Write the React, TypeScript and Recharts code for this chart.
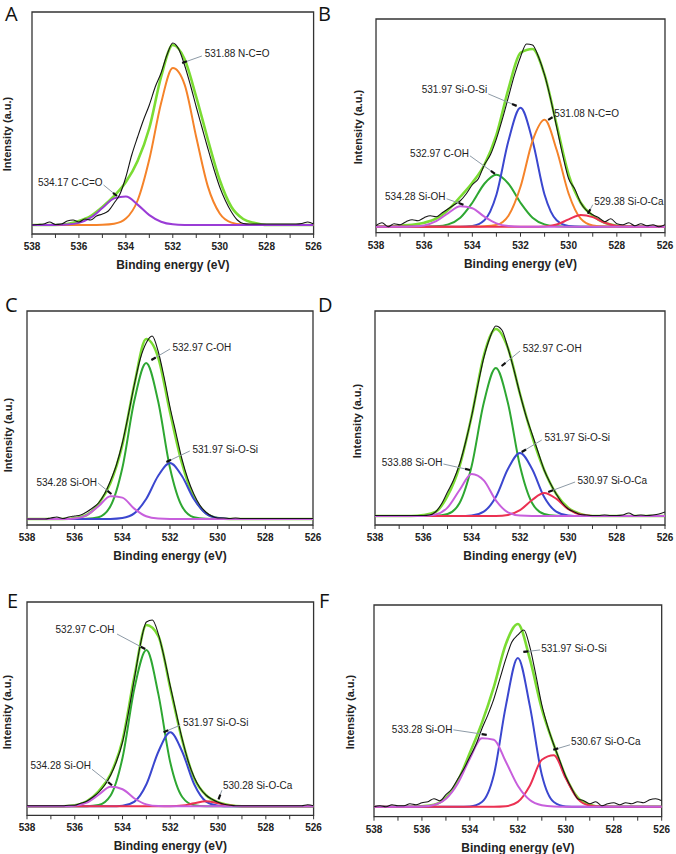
import React from 'react';
import { LineChart, Line, XAxis, YAxis, ReferenceArea, ReferenceLine, ReferenceDot } from 'recharts';

// binding energy grid of the fitted curves (eV) and of the measured spectra
const fitEnergy = [538, 537.5, 537, 536.5, 536, 535.5, 535, 534.5, 534, 533.5, 533, 532.5, 532, 531.5, 531, 530.5, 530, 529.5, 529, 528.5, 528, 527.5, 527, 526.5, 526];
const rawEnergy = [538, 537.75, 537.5, 537.25, 537, 536.75, 536.5, 536.25, 536, 535.75, 535.5, 535.25, 535, 534.75, 534.5, 534.25, 534, 533.75, 533.5, 533.25, 533, 532.75, 532.5, 532.25, 532, 531.75, 531.5, 531.25, 531, 530.75, 530.5, 530.25, 530, 529.75, 529.5, 529.25, 529, 528.75, 528.5, 528.25, 528, 527.75, 527.5, 527.25, 527, 526.75, 526.5, 526.25, 526];
const energyTicks = [526, 527, 528, 529, 530, 531, 532, 533, 534, 535, 536, 537, 538];

// A
const aRaw = [0, 0.5, 1, 3, 0.5, 1, 4, 5, 3, 6, 5, 9, 11, 14, 22, 31, 48, 70, 88, 105, 120, 138, 152, 170, 182, 176, 160, 140, 118, 97, 76, 56, 38, 24, 13, 5, 1.5, 1, 1, 1, 1, 1, 1, 1, 1, 1, 1.5, 3, 1];
const aEnvelope = [0, 0, 0, 1, 4, 9, 18, 29, 43, 64, 97, 148, 180, 166, 128, 85, 45, 18, 6, 2, 0, 0, 0, 0, 0];
const aNCO = [0, 0, 0, 0, 0, 0, 0.2, 1.2, 6.4, 24.5, 65.7, 121.7, 156.9, 140.7, 87.8, 38.1, 11.5, 2.4, 0.4, 0, 0, 0, 0, 0, 0];
const aCCO = [0, 0, 0.1, 0.4, 2.1, 7.3, 16.9, 26.6, 28.4, 20.4, 9.9, 3.3, 0.7, 0.1, 0, 0, 0, 0, 0, 0, 0, 0, 0, 0, 0];

// B
const bRaw = [1, 4, 0, 3, 2, 5, 7, 6, 9, 11, 10, 14, 18, 22, 26, 33, 42, 48, 62, 72, 88, 108, 130, 152, 170, 183, 182, 170, 152, 128, 100, 72, 48, 38, 24, 16, 12, 9, 5, 8, 3, 2, 4, 1, 3, 1, 2, 0, 2];
const bEnvelope = [0, 0, 1, 2, 4, 8, 17, 30, 44, 62, 92, 138, 174, 178, 152, 102, 52, 24, 11, 4, 1, 0, 0, 0, 0];
const bSiOSi = [0, 0, 0, 0, 0, 0, 0, 0, 0.7, 6.4, 32, 86, 119, 86, 32, 6.4, 0.7, 0, 0, 0, 0, 0, 0, 0, 0];
const bNCO = [0, 0, 0, 0, 0, 0, 0, 0, 0.1, 0.4, 1.8, 11, 40, 86, 107, 77, 33, 8, 1.2, 0.1, 0, 0, 0, 0, 0];
const bCOH = [0, 0, 0, 0, 0, 0.4, 2.3, 9, 24, 43, 52, 43, 24, 9, 2.3, 0.4, 0, 0, 0, 0, 0, 0, 0, 0, 0];
const bSiOH = [0, 0, 0, 0.2, 1.3, 5.5, 13.6, 20.5, 18.5, 10, 3.3, 0.6, 0, 0, 0, 0, 0, 0, 0, 0, 0, 0, 0, 0, 0];
const bSiOCa = [0, 0, 0, 0, 0, 0, 0, 0, 0, 0, 0, 0, 0, 0, 0.3, 2.2, 7.3, 11.8, 9.6, 3.9, 0.8, 0.1, 0, 0, 0];

// C
const cRaw = [0, 0, 0, 0, 1, 2, 0.5, 2, 3, 4, 7, 11, 16, 25, 38, 54, 76, 104, 134, 160, 176, 183, 168, 142, 112, 86, 60, 40, 25, 14, 7, 3, 1, 1, 0.5, 1, 0.5, 0.5, 0.5, 0.5, 0.5, 0.5, 0.5, 0.5, 0.5, 0.5, 0.5, 0.5, 0.5];
const cEnvelope = [0, 0, 0, 0, 1, 4, 15, 36, 74, 134, 180, 162, 107, 56, 22, 6, 1, 0, 0, 0, 0, 0, 0, 0, 0];
const cCOH = [0, 0, 0, 0, 0, 0.2, 1.8, 12.7, 51, 118, 156, 118, 51, 12.7, 1.8, 0.2, 0, 0, 0, 0, 0, 0, 0, 0, 0];
const cSiOSi = [0, 0, 0, 0, 0, 0, 0, 0.1, 1, 5.6, 20, 43, 56, 43, 20, 5.6, 1, 0.1, 0, 0, 0, 0, 0, 0, 0];
const cSiOH = [0, 0, 0, 0, 0.6, 3.7, 12.7, 22.8, 21.4, 10.4, 2.7, 0.4, 0, 0, 0, 0, 0, 0, 0, 0, 0, 0, 0, 0, 0];

// D
const dRaw = [0.5, 0.5, 0.5, 0.5, 0.5, 0.5, 0.5, 0.5, 0.5, 1, 4, 12, 24, 36, 52, 74, 100, 130, 158, 178, 190, 186, 168, 146, 122, 100, 82, 64, 46, 33, 22, 13, 7, 4, 1.5, 1, 0.5, 0.5, 1, 0.5, 0.5, 1, 3, 0.5, 1, 0.5, 1, 2, 4];
const dEnvelope = [0, 0, 0, 0, 1, 4, 20, 50, 100, 160, 187, 168, 122, 80, 46, 22, 8, 2, 0, 0, 0, 0, 0, 0, 0];
const dCOH = [0, 0, 0, 0, 0, 0.2, 2, 13, 50, 113, 148, 113, 50, 13, 2, 0.2, 0, 0, 0, 0, 0, 0, 0, 0, 0];
const dSiOSi = [0, 0, 0, 0, 0, 0, 0, 0, 0.5, 4.4, 19, 47, 63, 47, 19, 4.4, 0.5, 0, 0, 0, 0, 0, 0, 0, 0];
const dSiOH = [0, 0, 0, 0, 0.1, 1.4, 8.4, 26, 42, 35.6, 15.7, 3.6, 0.4, 0, 0, 0, 0, 0, 0, 0, 0, 0, 0, 0, 0];
const dSiOCa = [0, 0, 0, 0, 0, 0, 0, 0, 0, 0, 0.1, 1.1, 5.8, 16, 23, 17.3, 6.8, 1.4, 0.1, 0, 0, 0, 0, 0, 0];

// E
const eRaw = [0.5, 0.5, 0.5, 0.5, 0.5, 0.5, 0.5, 1, 1, 3, 5, 9, 14, 21, 31, 45, 64, 94, 128, 162, 184, 186, 172, 148, 120, 93, 67, 45, 29, 18, 11, 7, 4, 2, 1, 0.5, 0.5, 0.5, 0.5, 0.5, 0.5, 0.5, 0.5, 0.5, 0.5, 0.5, 0.5, 1.5, 0.5];
const eEnvelope = [0, 0, 0, 0, 1, 5, 15, 32, 66, 130, 181, 170, 118, 66, 28, 11, 4, 1, 0, 0, 0, 0, 0, 0, 0];
const eCOH = [0, 0, 0, 0, 0, 0.1, 1.3, 10.8, 48.4, 118, 156, 112, 43.7, 9.3, 1.1, 0.1, 0, 0, 0, 0, 0, 0, 0, 0, 0];
const eSiOSi = [0, 0, 0, 0, 0, 0, 0, 0, 0.6, 4.7, 22, 54.5, 74, 54.5, 22, 4.7, 0.6, 0, 0, 0, 0, 0, 0, 0, 0];
const eSiOH = [0, 0, 0, 0, 0.6, 3.6, 11.5, 19.4, 17, 7.8, 1.9, 0.2, 0, 0, 0, 0, 0, 0, 0, 0, 0, 0, 0, 0, 0];
const eSiOCa = [0, 0, 0, 0, 0, 0, 0, 0, 0, 0, 0, 0, 0.05, 0.7, 3, 5, 3, 0.7, 0.05, 0, 0, 0, 0, 0, 0];

// F
const fRaw = [0, 1, 0, 2, 1, 1, 3, 2, 4, 5, 8, 6, 12, 18, 28, 38, 50, 62, 78, 92, 108, 128, 148, 165, 172, 177, 160, 132, 102, 80, 62, 46, 30, 18, 8, 6, 3, 5, 1, 3, 4, 2, 4, 3, 5, 4, 7, 8, 6];
const fEnvelope = [0, 0, 0, 0, 0.5, 2, 9, 26, 54, 84, 120, 163, 183, 148, 98, 62, 30, 9, 2, 0, 0, 0, 0, 0, 0];
const fSiOSi = [0, 0, 0, 0, 0, 0, 0, 0, 0.3, 4.7, 32, 101, 149, 101, 32, 4.7, 0.3, 0, 0, 0, 0, 0, 0, 0, 0];
const fSiOH = [0, 0, 0, 0, 0.3, 1.8, 7.9, 23.5, 48.3, 68.5, 67, 45, 21, 6.7, 1.5, 0.2, 0, 0, 0, 0, 0, 0, 0, 0, 0];
const fSiOCa = [0, 0, 0, 0, 0, 0, 0, 0, 0, 0, 0, 0.5, 4.8, 21, 47, 51.6, 28.4, 7.8, 1.1, 0.1, 0, 0, 0, 0, 0];

const RAW = '#151515';
const ENV = '#7bdc33';
const ORANGE = '#f5832a';
const VIOLET = '#9a3cd6';
const BLUE = '#3b47cf';
const GREEN = '#2ea732';
const MAGENTA = '#c75fdc';
const RED = '#eb3152';

type Curve = { values: number[]; color: string; raw?: boolean; env?: boolean };
type Note = { text: string; at: [number, number]; side: 'left' | 'right'; from: [number, number]; to: [number, number] };

const notesA: Note[] = [
  { text: '534.17 C-C=O', at: [534.95, 43], side: 'left', from: [534.95, 40], to: [534.38, 29] },
  { text: '531.88 N-C=O', at: [530.68, 172], side: 'right', from: [530.76, 169], to: [531.6, 162] },
];
const notesB: Note[] = [
  { text: '531.97 Si-O-Si', at: [533.34, 137], side: 'left', from: [533.34, 133], to: [532.16, 121] },
  { text: '531.08 N-C=O', at: [530.64, 113], side: 'right', from: [530.64, 110], to: [530.85, 107] },
  { text: '532.97 C-OH', at: [534.1, 73], side: 'left', from: [534.1, 71], to: [533.06, 53] },
  { text: '534.28 Si-OH', at: [535.07, 30], side: 'left', from: [535.07, 28], to: [534.37, 22] },
  { text: '529.38 Si-O-Ca', at: [528.98, 25], side: 'right', from: [529.0, 22], to: [529.2, 13] },
];
const notesC: Note[] = [
  { text: '532.97 C-OH', at: [531.94, 172], side: 'right', from: [532.0, 170], to: [532.78, 159] },
  { text: '531.97 Si-O-Si', at: [531.1, 70], side: 'right', from: [531.17, 68], to: [532.15, 57] },
  { text: '534.28 Si-OH', at: [535.02, 37], side: 'left', from: [535.02, 36], to: [534.46, 25] },
];
const notesD: Note[] = [
  { text: '532.97 C-OH', at: [531.93, 168], side: 'right', from: [532.0, 165], to: [532.76, 150] },
  { text: '531.97 Si-O-Si', at: [531.03, 79], side: 'right', from: [531.1, 76], to: [531.93, 64] },
  { text: '533.88 Si-OH', at: [535.17, 54], side: 'left', from: [535.17, 52], to: [534.07, 46] },
  { text: '530.97 Si-O-Ca', at: [529.66, 36], side: 'right', from: [529.72, 34], to: [530.83, 24] },
];
const notesE: Note[] = [
  { text: '532.97 C-OH', at: [534.3, 177], side: 'left', from: [534.23, 172], to: [533.05, 157] },
  { text: '531.97 Si-O-Si', at: [531.51, 84], side: 'right', from: [531.58, 81], to: [532.28, 74] },
  { text: '534.28 Si-OH', at: [535.28, 41], side: 'left', from: [535.28, 37], to: [534.44, 21] },
  { text: '530.28 Si-O-Ca', at: [529.84, 21], side: 'right', from: [529.84, 16], to: [529.98, 7] },
];
const notesF: Note[] = [
  { text: '531.97 Si-O-Si', at: [531.07, 158], side: 'right', from: [531.07, 157], to: [531.77, 155] },
  { text: '533.28 Si-OH', at: [534.69, 77], side: 'left', from: [534.69, 77], to: [533.3, 72] },
  { text: '530.67 Si-O-Ca', at: [529.82, 65], side: 'right', from: [529.82, 62], to: [530.52, 57] },
];

const toRows = (xs: number[], ys: number[]) => xs.map((e, i) => ({ e, v: ys[i] }));

type PanelProps = {
  letter: string;
  letterPos: [number, number];
  box: { x: number; y: number; w: number; h: number };
  yDomain: [number, number];
  titleGap: number;
  titleShift: number;
  curves: Curve[];
  notes: Note[];
};

const Panel = ({ letter, letterPos, box, yDomain, titleGap, titleShift, curves, notes }: PanelProps) => {
  const m = { top: 2, right: 10, left: 12, bottom: 0 };
  const width = box.w + m.left + m.right;
  const height = box.h + m.top + 40;
  const pxPerE = box.w / 12;
  const pxPerV = box.h / (yDomain[1] - yDomain[0]);

  return (
    <>
      <div style={{ position: 'absolute', left: letterPos[0], top: letterPos[1], fontFamily: '"Open Sans", sans-serif', fontSize: 20, color: '#111' }}>
        {letter}
      </div>
      <div
        style={{
          position: 'absolute',
          left: box.x - titleGap,
          top: box.y + box.h / 2 + titleShift,
          transform: 'translate(-50%, -50%) rotate(-90deg)',
          whiteSpace: 'nowrap',
          fontSize: 11,
          fontWeight: 700,
          color: '#222',
        }}
      >
        Intensity (a.u.)
      </div>
      <div style={{ position: 'absolute', left: box.x - m.left, top: box.y - m.top }}>
        <LineChart width={width} height={height} margin={m}>
          <XAxis
            dataKey="e"
            type="number"
            domain={[526, 538]}
            reversed
            allowDataOverflow
            ticks={energyTicks}
            interval={0}
            tickFormatter={(v: number) => (v % 2 === 0 ? String(v) : '')}
            axisLine={false}
            tickLine={{ stroke: '#333' }}
            tickSize={4}
            tickMargin={5}
            height={40}
            tick={{ fontSize: 10, fontWeight: 700, fill: '#222' }}
            label={{ value: 'Binding energy (eV)', position: 'insideBottom', offset: 5, fontSize: 12, fontWeight: 700, fill: '#222' }}
          />
          <YAxis hide type="number" domain={yDomain} allowDataOverflow />
          <ReferenceArea x1={538} x2={526} y1={yDomain[0]} y2={yDomain[1]} fill="none" stroke="#333" strokeWidth={1.3} />
          {curves.map((c, i) => (
            <Line
              key={'c' + i}
              data={toRows(c.raw ? rawEnergy : fitEnergy, c.values)}
              dataKey="v"
              type="monotone"
              stroke={c.color}
              strokeWidth={c.raw ? 1.1 : c.env ? 2.6 : 2}
              dot={false}
              activeDot={false}
              isAnimationActive={false}
            />
          ))}
          {notes.map((n, i) => {
            const [x1, y1] = n.from;
            const [x2, y2] = n.to;
            const len = Math.hypot((x2 - x1) * pxPerE, (y2 - y1) * pxPerV);
            const f = Math.min(1, 5 / len);
            const hx = x2 - (x2 - x1) * f;
            const hy = y2 - (y2 - y1) * f;
            return [
              <ReferenceLine key={'l' + i} segment={[{ x: x1, y: y1 }, { x: x2, y: y2 }]} stroke="#8d9aa6" strokeWidth={1} />,
              <ReferenceLine key={'h' + i} segment={[{ x: hx, y: hy }, { x: x2, y: y2 }]} stroke="#111" strokeWidth={2.2} />,
              <ReferenceDot
                key={'t' + i}
                x={n.at[0]}
                y={n.at[1]}
                r={0}
                fill="none"
                stroke="none"
                label={{ value: n.text, position: n.side, offset: 1, fontSize: 10, fill: '#222' }}
              />,
            ];
          })}
        </LineChart>
      </div>
    </>
  );
};

export default function App() {
  return (
    <div
      style={{
        position: 'absolute',
        left: 0,
        top: 0,
        width: 676,
        height: 854,
        background: '#fff',
        fontFamily: '"Liberation Sans", Arial, sans-serif',
        overflow: 'hidden',
      }}
    >
      <Panel
        letter="A"
        letterPos={[5, 0]}
        box={{ x: 31.7, y: 12.3, w: 281.6, h: 222 }}
        yDomain={[-9, 213]}
        titleGap={25}
        titleShift={11}
        curves={[
          { values: aEnvelope, color: ENV, env: true },
          { values: aNCO, color: ORANGE },
          { values: aCCO, color: VIOLET },
          { values: aRaw, color: RAW, raw: true },
        ]}
        notes={notesA}
      />
      <Panel
        letter="B"
        letterPos={[318, 0]}
        box={{ x: 376, y: 19, w: 289, h: 213.7 }}
        yDomain={[-6, 208]}
        titleGap={18}
        titleShift={1}
        curves={[
          { values: bEnvelope, color: ENV, env: true },
          { values: bCOH, color: GREEN },
          { values: bSiOSi, color: BLUE },
          { values: bNCO, color: ORANGE },
          { values: bSiOCa, color: RED },
          { values: bSiOH, color: MAGENTA },
          { values: bRaw, color: RAW, raw: true },
        ]}
        notes={notesB}
      />
      <Panel
        letter="C"
        letterPos={[5, 291]}
        box={{ x: 27.3, y: 311, w: 286, h: 214 }}
        yDomain={[-6, 208]}
        titleGap={19}
        titleShift={17}
        curves={[
          { values: cEnvelope, color: ENV, env: true },
          { values: cCOH, color: GREEN },
          { values: cSiOSi, color: BLUE },
          { values: cSiOH, color: MAGENTA },
          { values: cRaw, color: RAW, raw: true },
        ]}
        notes={notesC}
      />
      <Panel
        letter="D"
        letterPos={[318, 291]}
        box={{ x: 375, y: 311, w: 290, h: 214 }}
        yDomain={[-9, 205]}
        titleGap={18}
        titleShift={3}
        curves={[
          { values: dEnvelope, color: ENV, env: true },
          { values: dCOH, color: GREEN },
          { values: dSiOSi, color: BLUE },
          { values: dSiOCa, color: RED },
          { values: dSiOH, color: MAGENTA },
          { values: dRaw, color: RAW, raw: true },
        ]}
        notes={notesD}
      />
      <Panel
        letter="E"
        letterPos={[7, 587]}
        box={{ x: 26.7, y: 601.7, w: 286.6, h: 213.3 }}
        yDomain={[-9, 204]}
        titleGap={20}
        titleShift={4}
        curves={[
          { values: eEnvelope, color: ENV, env: true },
          { values: eCOH, color: GREEN },
          { values: eSiOSi, color: BLUE },
          { values: eSiOCa, color: RED },
          { values: eSiOH, color: MAGENTA },
          { values: eRaw, color: RAW, raw: true },
        ]}
        notes={notesE}
      />
      <Panel
        letter="F"
        letterPos={[319, 587]}
        box={{ x: 374, y: 605, w: 287.7, h: 211.7 }}
        yDomain={[-10, 202]}
        titleGap={24}
        titleShift={1}
        curves={[
          { values: fEnvelope, color: ENV, env: true },
          { values: fSiOSi, color: BLUE },
          { values: fSiOCa, color: RED },
          { values: fSiOH, color: MAGENTA },
          { values: fRaw, color: RAW, raw: true },
        ]}
        notes={notesF}
      />
    </div>
  );
}
